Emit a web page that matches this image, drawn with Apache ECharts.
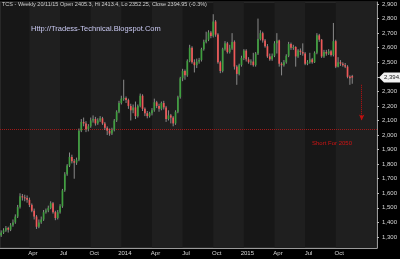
<!DOCTYPE html>
<html><head><meta charset="utf-8">
<script src="https://cdn.jsdelivr.net/npm/echarts@6/dist/echarts.min.js"></script>
<style>html,body{margin:0;padding:0;background:#000;}#c{width:400px;height:259px;}</style>
</head><body><div id="c"></div>
<script>
const titleText = 'TCS - Weekly 20/11/15 Open 2405.3, Hi 2413.4, Lo 2352.25, Close 2394.95 (-0.3%)';
const urlText = 'Http://Tradess-Technical.Blogspot.Com';
const noteText = 'Short For 2050';
const startDate = '2013-01-11';
const padWeeks = 10;
const quarterStarts = [12,25,38,51,64,77,90,103,116,129,142];
const quarterLabels = ['Apr','Jul','Oct','2014','Apr','Jul','Oct','2015','Apr','Jul','Oct'];
const lightQuarters = [[12,25],[38,51],[64,77],[90,103],[116,129],[142,159]];
const yTicks = [1300,1400,1500,1600,1700,1800,1900,2000,2100,2200,2300,2400,2500,2600,2700,2800,2900];
const shortLevel = 2040;
const arrowFrom = 2345, arrowTo = 2100, arrowIndex = 153;
const lastClose = 2394.95;

const opens = [1310,1330,1345,1362,1350,1380,1400,1440,1505,1580,1572,1568,1555,1520,1480,1440,1370,1400,1420,1470,
1482,1500,1532,1470,1430,1470,1510,1620,1730,1790,1850,1820,1810,1830,2030,2090,2080,2040,2060,2100,
2110,2080,2100,2115,2080,2050,2030,2010,2035,2100,2160,2220,2250,2255,2240,2200,2170,2190,2130,2200,
2270,2180,2150,2130,2150,2170,2225,2200,2180,2220,2190,2110,2135,2120,2080,2160,2260,2390,2440,2410,
2510,2600,2500,2480,2505,2515,2590,2640,2655,2705,2680,2780,2690,2500,2440,2590,2630,2570,2595,2640,
2470,2420,2480,2530,2580,2520,2500,2505,2480,2560,2660,2700,2650,2610,2540,2520,2545,2630,2650,2490,
2480,2500,2545,2625,2600,2605,2540,2580,2570,2560,2490,2500,2520,2500,2565,2685,2655,2540,2570,2560,
2575,2550,2645,2470,2500,2490,2480,2470,2400,2405.3];
const closes = [1330,1345,1362,1350,1380,1400,1440,1505,1580,1572,1568,1555,1520,1480,1440,1370,1400,1420,1470,1482,
1500,1532,1470,1430,1470,1510,1620,1730,1790,1850,1820,1810,1830,2030,2090,2080,2040,2060,2100,2110,
2080,2100,2115,2080,2050,2030,2010,2035,2100,2160,2220,2250,2255,2240,2200,2170,2190,2130,2200,2270,
2180,2150,2130,2150,2170,2225,2200,2180,2220,2190,2110,2135,2120,2080,2160,2260,2390,2440,2410,2510,
2600,2500,2480,2505,2515,2590,2640,2655,2705,2680,2780,2690,2500,2440,2590,2630,2570,2595,2640,2470,
2420,2480,2530,2580,2520,2500,2505,2480,2560,2660,2700,2650,2610,2540,2520,2545,2630,2650,2490,2480,
2500,2545,2625,2600,2605,2540,2580,2570,2560,2490,2500,2520,2500,2565,2685,2655,2540,2570,2560,2575,
2550,2645,2470,2500,2490,2480,2470,2400,2390,2394.95];
const lows = [1300,1320,1335,1330,1340,1370,1390,1430,1495,1550,1545,1535,1505,1470,1420,1355,1360,1390,1410,1460,
1470,1490,1460,1415,1420,1460,1500,1610,1720,1780,1805,1700,1795,1820,2020,2060,2020,2025,2050,2085,
2065,2070,2090,2070,2035,2000,1995,2000,2025,2090,2150,2210,2235,2220,2180,2100,2150,2110,2120,2190,
2165,2130,2115,2120,2135,2160,2185,2160,2170,2175,2090,2100,2080,2060,2070,2150,2250,2370,2380,2400,
2500,2490,2430,2460,2490,2505,2580,2630,2645,2665,2670,2675,2490,2425,2430,2580,2560,2560,2585,2450,
2345,2410,2470,2515,2505,2490,2480,2470,2470,2550,2650,2635,2600,2530,2510,2510,2535,2560,2470,2410,
2470,2490,2535,2585,2585,2470,2530,2550,2545,2480,2480,2490,2490,2495,2555,2640,2530,2530,2545,2550,
2540,2540,2460,2465,2475,2470,2460,2390,2345,2352.25];
const highs = [1345,1360,1375,1370,1395,1420,1455,1520,1600,1595,1590,1585,1570,1530,1495,1450,1420,1440,1485,1495,
1515,1545,1540,1480,1485,1525,1630,1745,1800,1880,1865,1835,1845,2045,2110,2120,2095,2075,2120,2135,
2125,2115,2130,2125,2090,2060,2045,2050,2110,2170,2235,2270,2380,2265,2250,2215,2210,2230,2210,2285,
2280,2190,2165,2160,2185,2250,2235,2215,2230,2235,2200,2170,2145,2130,2170,2270,2400,2455,2450,2520,
2620,2610,2520,2525,2530,2600,2655,2710,2720,2715,2830,2790,2700,2510,2600,2645,2640,2620,2700,2650,
2480,2490,2545,2590,2590,2535,2520,2565,2570,2800,2720,2710,2660,2625,2560,2560,2645,2700,2655,2500,
2515,2555,2640,2635,2620,2610,2590,2595,2630,2570,2515,2565,2530,2575,2700,2695,2660,2585,2585,2590,
2585,2770,2655,2535,2515,2500,2495,2480,2410,2413.4];

// weekly category labels (dates)
const cats = [];
{
  const d0 = new Date(startDate + 'T00:00:00Z');
  for (let i = 0; i < opens.length + padWeeks; i++) {
    const d = new Date(d0.getTime() + i * 7 * 86400000);
    cats.push(d.toISOString().slice(0, 10));
  }
}
const candleData = opens.map((o, i) => [i, o, closes[i], lows[i], highs[i]]);

const chart = echarts.init(document.getElementById('c'), null, {renderer: 'canvas'});
const fmt = v => v.toLocaleString('en-US');
const option = {
  backgroundColor: '#000',
  animation: false,
  grid: {left: 0, right: 23, top: 2, bottom: 11, show: true, backgroundColor: '#171717', borderColor: '#3a3a3a', borderWidth: 1},
  xAxis: {
    type: 'category', data: cats, boundaryGap: true,
    axisLine: {show: true, lineStyle: {color: '#9a9a9a', width: 1}},
    axisTick: {show: false},
    splitLine: {show: false},
    axisLabel: {
      color: '#d8d8d8', fontSize: 6, fontFamily: 'Liberation Sans', margin: 2, padding: [0, 0, 0, 7],
      interval: idx => quarterStarts.includes(idx),
      formatter: (val, idx) => { const k = quarterStarts.indexOf(idx); return k >= 0 ? quarterLabels[k] : ''; }
    }
  },
  yAxis: {
    type: 'value', position: 'right', min: 1224, max: 2914, scale: true,
    axisLine: {show: true, lineStyle: {color: '#9a9a9a'}},
    axisTick: {show: true, length: 2, customValues: yTicks, lineStyle: {color: '#bbb'}},
    splitLine: {show: false},
    axisLabel: {color: '#d8d8d8', fontSize: 6, fontFamily: 'Liberation Sans', margin: 5, customValues: yTicks, formatter: v => fmt(v)}
  },
  series: [
    {
      type: 'line', data: closes, symbol: 'none', silent: true, lineStyle: {opacity: 0}, z: 1,
      markArea: {
        silent: true,
        itemStyle: {color: '#1f1f1f'},
        data: lightQuarters.map(q => [{xAxis: cats[q[0]]}, {xAxis: cats[q[1]]}])
      },
      markLine: {
        silent: true, symbol: 'none', label: {show: false},
        data: [
          {yAxis: shortLevel, lineStyle: {color: '#a01818', type: [1, 1], width: 1}},
          [{coord: [cats[arrowIndex], arrowFrom], symbol: 'none'}, {coord: [cats[arrowIndex], arrowTo], symbol: 'arrow', symbolSize: [4, 6]}]
        ],
        lineStyle: {color: '#c01010', type: [1, 1], width: 1}
      }
    },
    {
      type: 'custom', data: candleData, z: 5,
      encode: {x: 0, y: [1, 2, 3, 4]},
      renderItem: (params, api) => {
        const i = api.value(0);
        const o = api.value(1), c = api.value(2), l = api.value(3), h = api.value(4);
        const pO = api.coord([i, o]), pC = api.coord([i, c]), pL = api.coord([i, l]), pH = api.coord([i, h]);
        const w = api.size([1, 0])[0] * 0.72;
        const top = Math.min(pO[1], pC[1]), bot = Math.max(pO[1], pC[1]);
        const up = c >= o;
        return {type: 'group', children: [
          {type: 'line', shape: {x1: pL[0], y1: pL[1], x2: pH[0], y2: pH[1]}, style: {stroke: '#8a8a8a', lineWidth: 1}},
          {type: 'rect', shape: {x: pO[0] - w / 2, y: top, width: w, height: Math.max(bot - top, 1)}, style: {fill: up ? '#3f9f3f' : '#f05858'}}
        ]};
      }
    }
  ]
};
chart.setOption(option);
const py = chart.convertToPixel({yAxisIndex: 0}, lastClose);
chart.setOption({graphic: [
  {id: 'title', type: 'text', left: 2, top: 1, z: 100, style: {text: titleText, fill: '#cfcfcf', fontSize: 5.5, fontFamily: 'Liberation Sans'}},
  {id: 'url', type: 'text', left: 31, top: 25, z: 100, style: {text: urlText, fill: '#c9c9f2', fontSize: 7.5, fontFamily: 'Liberation Sans'}},
  {id: 'note', type: 'text', left: 312, top: 140, z: 100, style: {text: noteText, fill: '#d01414', fontSize: 6, fontFamily: 'Liberation Sans'}},
  {id: 'tag', type: 'polygon', z: 100, shape: {points: [[379, py], [384, py - 5], [402, py - 5], [402, py + 5], [384, py + 5]]}, style: {fill: '#f2f2f2'}},
  {id: 'tagText', type: 'text', z: 101, x: 384, y: py - 3.5, style: {text: fmt(lastClose), fill: '#222', fontSize: 6, fontFamily: 'Liberation Sans'}}
]});
</script></body></html>
